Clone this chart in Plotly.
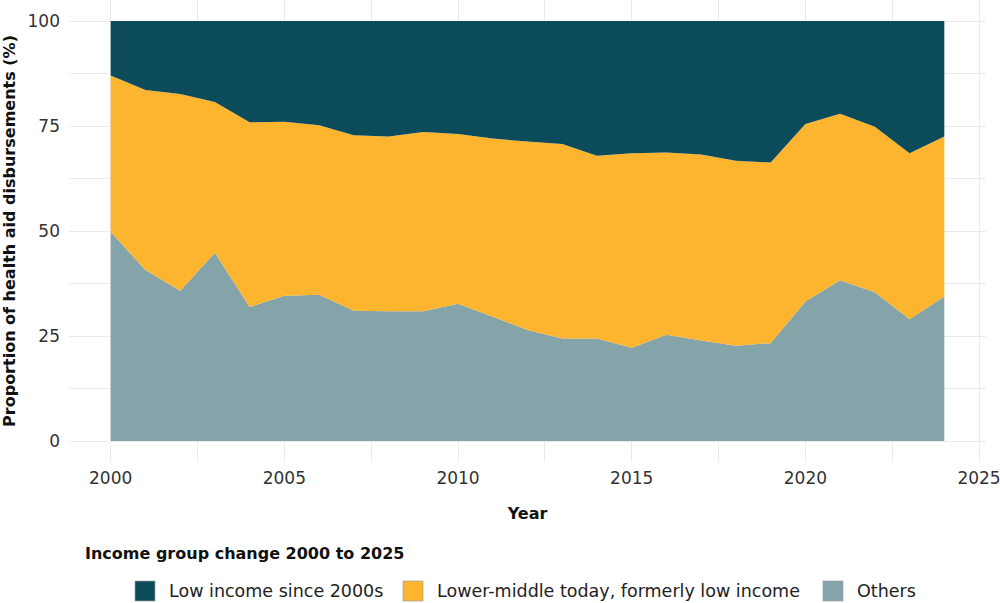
import plotly.graph_objects as go

years = list(range(2000, 2025))

# share of health aid disbursements (%)
others = [49.8, 40.7, 35.8, 44.8, 31.9, 34.6, 34.8, 31.0, 30.9, 30.9,
          32.7, 29.6, 26.4, 24.4, 24.4, 22.2, 25.3, 23.9, 22.7, 23.3,
          33.2, 38.3, 35.4, 29.0, 34.4]
lower_middle = [37.2, 42.9, 46.8, 35.9, 44.0, 41.4, 40.4, 41.8, 41.6, 42.7,
                40.4, 42.4, 44.9, 46.3, 43.5, 46.3, 43.4, 44.3, 44.0, 43.0,
                42.3, 39.6, 39.4, 39.5, 38.1]
low_income = [13.0, 16.4, 17.4, 19.3, 24.1, 24.0, 24.8, 27.2, 27.5, 26.4,
              26.9, 28.0, 28.7, 29.3, 32.1, 31.5, 31.3, 31.8, 33.3, 33.7,
              24.5, 22.1, 25.2, 31.5, 27.5]

names = ["Low income since 2000s", "Lower-middle today, formerly low income", "Others"]
colors = ["#0C4B5A", "#FDB42E", "#84A4AA"]

fnt = "DejaVu Sans"
W, H = 1000, 603
L, R, T, B = 69, 14, 0, 141
pw, ph = W - L - R, H - T - B


def px(x):  # pixel -> paper x
    return (x - L) / pw


def py(y):  # pixel -> paper y
    return (H - B - y) / ph


fig = go.Figure()

# bottom to top
for vals, name, col in [(others, names[2], colors[2]),
                        (lower_middle, names[1], colors[1]),
                        (low_income, names[0], colors[0])]:
    fig.add_trace(go.Scatter(
        x=years, y=vals, name=name, stackgroup="one", mode="none",
        fillcolor=col, showlegend=False, hoverinfo="x+y+name"))

# hand-placed legend (keys + labels), ggplot style at the bottom
key_left = [135, 403, 823]
shapes, annots = [], []
for name, col, kx in zip(names, colors, key_left):
    shapes.append(dict(type="rect", xref="paper", yref="paper",
                       x0=px(kx), x1=px(kx + 20), y0=py(601), y1=py(581),
                       fillcolor=col, line=dict(color="#a0a0a0", width=0.7)))
    annots.append(dict(text=name, xref="paper", yref="paper",
                       x=px(kx + 32), y=py(591), xanchor="left", yanchor="middle",
                       showarrow=False, font=dict(size=17.5, color="#222")))
annots.append(dict(
    text="<b>Income group change 2000 to 2025</b>", xref="paper", yref="paper",
    x=px(83), y=py(553), xanchor="left", yanchor="middle", showarrow=False,
    font=dict(size=16, color="#111")))

grid = "#EBEBEB"
fig.update_layout(
    width=W, height=H,
    margin=dict(l=L, r=R, t=T, b=B),
    plot_bgcolor="white", paper_bgcolor="white",
    font=dict(family=fnt, size=17, color="#333333"),
    showlegend=False,
    xaxis=dict(
        range=[1998.8, 2025.2], tickvals=[2000, 2005, 2010, 2015, 2020, 2025],
        showgrid=True, gridcolor=grid, gridwidth=1.4, zeroline=False,
        showline=False, ticks="", ticklabelstandoff=4, automargin=False,
        ticklabeloverflow="allow",
        minor=dict(tickvals=[2002.5, 2007.5, 2012.5, 2017.5, 2022.5],
                   showgrid=True, gridcolor=grid, gridwidth=0.8),
        title=dict(text="<b>Year</b>", font=dict(size=16, color="#111"), standoff=20),
    ),
    yaxis=dict(
        range=[-5, 105], tickvals=[0, 25, 50, 75, 100],
        showgrid=True, gridcolor=grid, gridwidth=1.4, zeroline=False,
        showline=False, ticks="", ticklabelstandoff=8, automargin=False,
        ticklabeloverflow="allow",
        minor=dict(tickvals=[12.5, 37.5, 62.5, 87.5],
                   showgrid=True, gridcolor=grid, gridwidth=0.8),
        title=dict(text="<b>Proportion of health aid disbursements (%)</b>",
                   font=dict(size=16, color="#111"), standoff=8),
    ),
    shapes=shapes,
    annotations=annots,
)

# page body margin off so the figure sits at the window corner
fig.write_html("out.html", config={"displayModeBar": False},
               post_script="document.body.style.margin='0';")
